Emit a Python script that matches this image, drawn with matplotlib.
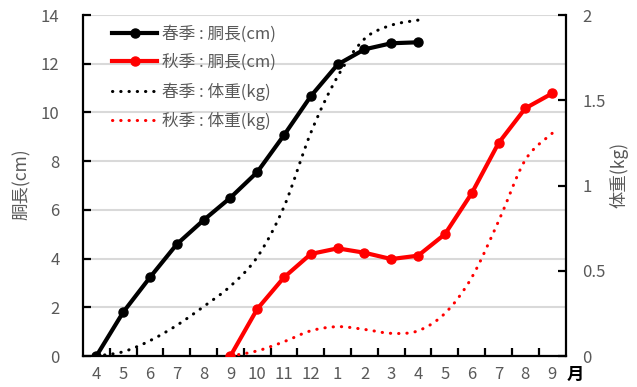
import numpy as np
import matplotlib.pyplot as plt
from matplotlib.path import Path
from matplotlib.patches import PathPatch
from matplotlib.lines import Line2D

plt.rcParams['font.family'] = ['Noto Sans CJK JP', 'DejaVu Sans']

months = ['4', '5', '6', '7', '8', '9', '10', '11', '12',
          '1', '2', '3', '4', '5', '6', '7', '8', '9']

# spring batch: April .. next April, autumn batch: September .. next September
spring_idx = list(range(0, 13))
autumn_idx = list(range(5, 18))

spring_length = [0, 1.8, 3.23, 4.59, 5.58, 6.5, 7.55, 9.07, 10.67, 11.97, 12.59, 12.84, 12.88]
autumn_length = [0, 1.93, 3.23, 4.19, 4.42, 4.24, 3.98, 4.12, 5.0, 6.68, 8.74, 10.17, 10.78]

spring_weight = [0, 0.025, 0.09, 0.18, 0.29, 0.41, 0.58, 0.876, 1.31, 1.64, 1.86, 1.94, 1.97]
autumn_weight = [0, 0.03, 0.084, 0.148, 0.172, 0.156, 0.133, 0.148, 0.25, 0.46, 0.79, 1.15, 1.306]

GRAY = '#595959'
DOTS = (0, (0.1, 2.6))
FS = 12


def smooth_path(xs, ys):
    # cubic bezier through every point (catmull-rom style tangents)
    pts = np.column_stack([xs, ys]).astype(float)
    n = len(pts)
    verts = [pts[0]]
    codes = [Path.MOVETO]
    for i in range(n - 1):
        p0 = pts[i - 1] if i > 0 else pts[i]
        p1 = pts[i]
        p2 = pts[i + 1]
        p3 = pts[i + 2] if i + 2 < n else pts[i + 1]
        verts += [p1 + (p2 - p0) / 6, p2 - (p3 - p1) / 6, p2]
        codes += [Path.CURVE4] * 3
    return Path(verts, codes)


fig = plt.figure(figsize=(6.37, 3.87), dpi=100)
ax = fig.add_axes([0.1303, 0.0801, 0.8878 - 0.1303, 0.9612 - 0.0801])
ax2 = ax.twinx()

ax.plot(spring_idx, spring_length, color='black', lw=3, marker='o', ms=6.5, zorder=3)
ax.plot(autumn_idx, autumn_length, color='red', lw=3, marker='o', ms=6.5, zorder=3)

for idx, w, c in [(spring_idx, spring_weight, 'black'), (autumn_idx, autumn_weight, 'red')]:
    patch = PathPatch(smooth_path(idx, w), fill=False, edgecolor=c, lw=2.2,
                      linestyle=DOTS, capstyle='round')
    ax2.add_patch(patch)

ax.set_xlim(-0.5, 17.5)
ax.set_ylim(0, 14)
ax2.set_ylim(0, 2)

ax.set_yticks(np.arange(0, 15, 2))
ax2.set_yticks([0, 0.5, 1, 1.5, 2])
ax2.set_yticklabels(['0', '0.5', '1', '1.5', '2'])
ax.set_xticks(range(18))
ax.set_xticklabels(months)
ax.set_xticks(np.arange(0.5, 17, 1), minor=True)

ax.grid(axis='y', color='#d9d9d9', lw=1.5, zorder=0)
ax.set_axisbelow(True)

for a in (ax, ax2):
    for s in a.spines.values():
        s.set_linewidth(1.6)
        s.set_color('black')
    a.spines['top'].set_visible(False)
ax.spines['right'].set_visible(False)
ax2.spines['left'].set_visible(False)
ax2.spines['bottom'].set_visible(False)

ax.tick_params(axis='y', direction='in', length=6, width=1.6, labelsize=FS,
               labelcolor=GRAY, pad=17)
ax2.tick_params(axis='y', direction='in', length=6, width=1.6, labelsize=FS,
                labelcolor=GRAY, pad=12)
ax.tick_params(axis='x', which='major', length=0, labelsize=FS, labelcolor=GRAY, pad=7)
ax.tick_params(axis='x', which='minor', direction='in', length=6, width=1.6)

fig.text(22 / 637, 1 - 184 / 387, '胴長(cm)', rotation=90, ha='center', va='center',
         fontsize=12.5, color=GRAY)
fig.text(619 / 637, 1 - 175 / 387, '体重(kg)', rotation=90, ha='center', va='center',
         fontsize=12.5, color=GRAY)
fig.text(575 / 637, 1 - 375 / 387, '月', ha='center', va='center',
         fontsize=12.5, color='black', fontweight='bold')

handles = [
    Line2D([], [], color='black', lw=3, marker='o', ms=6.5),
    Line2D([], [], color='red', lw=3, marker='o', ms=6.5),
    Line2D([], [], color='black', lw=2.2, linestyle=DOTS, dash_capstyle='round'),
    Line2D([], [], color='red', lw=2.2, linestyle=DOTS, dash_capstyle='round'),
]
labels = ['春季 : 胴長(cm)', '秋季 : 胴長(cm)', '春季 : 体重(kg)', '秋季 : 体重(kg)']
leg = ax2.legend(handles, labels, loc='upper left', bbox_to_anchor=(0.03, 1.015),
                 frameon=False, fontsize=FS, handlelength=2.7, labelspacing=0.68,
                 handletextpad=0.3)
for t in leg.get_texts():
    t.set_color(GRAY)

fig.savefig('out.png', dpi=100)
